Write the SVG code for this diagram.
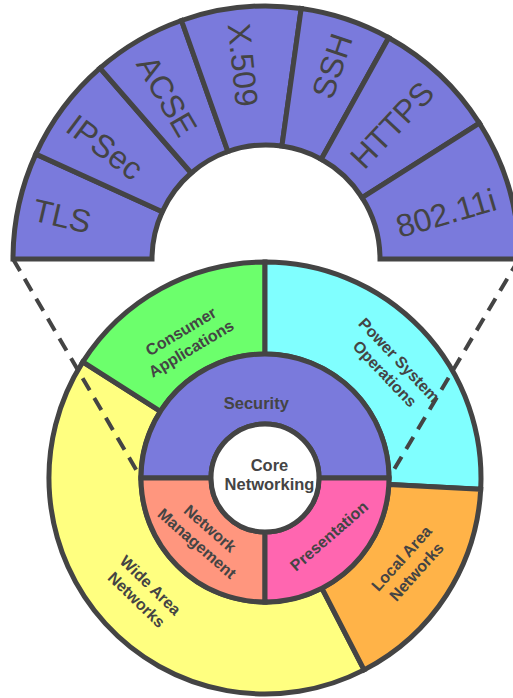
<svg xmlns="http://www.w3.org/2000/svg" width="513" height="698" viewBox="0 0 513 698">
<style>
.seg{stroke:#444;stroke-width:5;stroke-linejoin:miter}
.top{fill:#7a7adc}
.tt{font-family:"Liberation Sans",Arial,sans-serif;font-size:32px;fill:#444;text-anchor:middle}
.lb{font-family:"Liberation Sans",Arial,sans-serif;font-size:16px;font-weight:bold;fill:#444;text-anchor:middle}
.dash{fill:none;stroke:#444;stroke-width:4;stroke-dasharray:14 9}
</style>
<rect width="513" height="698" fill="#fff"/>
<g id="top-ring">
<g id="tls"><path class="seg top" d="M13,259 A253,253 0 0 1 35.8,154.1 L162.3,211.7 A114,114 0 0 0 152,259 Z"/><text class="tt" transform="translate(62,216) rotate(13)" dy="0.35em">TLS</text></g>
<g id="ipsec"><path class="seg top" d="M35.8,154.1 A253,253 0 0 1 100,68.1 L191.2,173 A114,114 0 0 0 162.3,211.7 Z"/><text class="tt" transform="translate(105,147) rotate(36.75)" dy="0.35em">IPSec</text></g>
<g id="acse"><path class="seg top" d="M100,68.1 A253,253 0 0 1 181.5,20.5 L227.9,151.5 A114,114 0 0 0 191.2,173 Z"/><text class="tt" transform="translate(167,96) rotate(59.75)" dy="0.35em">ACSE</text></g>
<g id="x509"><path class="seg top" d="M181.5,20.5 A253,253 0 0 1 301.2,8.5 L281.9,146.1 A114,114 0 0 0 227.9,151.5 Z"/><text class="tt" transform="translate(243,65) rotate(84.25)" dy="0.35em">X.509</text></g>
<g id="ssh"><path class="seg top" d="M301.2,8.5 A253,253 0 0 1 388.7,37.7 L321.3,159.3 A114,114 0 0 0 281.9,146.1 Z"/><text class="tt" transform="translate(332,66) rotate(-71.5)" dy="0.35em">SSH</text></g>
<g id="https"><path class="seg top" d="M388.7,37.7 A253,253 0 0 1 479.4,123.1 L362.1,197.7 A114,114 0 0 0 321.3,159.3 Z"/><text class="tt" transform="translate(392,125) rotate(-46.75)" dy="0.35em">HTTPS</text></g>
<g id="ieee80211i"><path class="seg top" d="M479.4,123.1 A253,253 0 0 1 519,259 L380,259 A114,114 0 0 0 362.1,197.7 Z"/><text class="tt" transform="translate(446,213) rotate(-16.25)" dy="0.35em">802.11i</text></g>
</g>
<g id="wide-area">
<path class="seg" fill="#ffff80" d="M364.1,669.9 A216,216 0 0 1 82.8,361.9 L160.4,411.4 A124,124 0 0 0 321.9,588.2 Z"/>
<g transform="translate(143.5,592.5) rotate(44)"><text class="lb" y="-4.5">Wide Area</text><text class="lb" y="15.5">Networks</text></g>
</g>
<g id="consumer">
<path class="seg" fill="#6cff6c" d="M82.8,361.9 A216,216 0 0 1 265,262 L265,354 A124,124 0 0 0 160.4,411.4 Z"/>
<g transform="translate(186,340) rotate(-31)"><text class="lb" y="-4.5">Consumer</text><text class="lb" y="15.5">Applications</text></g>
</g>
<g id="power">
<path class="seg" fill="#80ffff" d="M265,262 A216,216 0 0 1 480.7,489.3 L388.8,484.5 A124,124 0 0 0 265,354 Z"/>
<g transform="translate(392,367) rotate(46.5)"><text class="lb" y="-4.5">Power System</text><text class="lb" y="15.5">Operations</text></g>
</g>
<g id="local-area">
<path class="seg" fill="#ffb348" d="M480.7,489.3 A216,216 0 0 1 364.1,669.9 L321.9,588.2 A124,124 0 0 0 388.8,484.5 Z"/>
<g transform="translate(409,565) rotate(-48)"><text class="lb" y="-4.5">Local Area</text><text class="lb" y="15.5">Networks</text></g>
</g>
<g id="security">
<path class="seg" fill="#7a7adc" d="M141,478 A124,124 0 0 1 389,478 L319,478 A54,54 0 0 0 211,478 Z"/>
<text class="lb" x="256.3" y="409" style="font-size:16.5px">Security</text>
</g>
<g id="network-management">
<path class="seg" fill="#ff967e" d="M265,602 A124,124 0 0 1 141,478 L211,478 A54,54 0 0 0 265,532 Z"/>
<g transform="translate(203.5,536) rotate(41)"><text class="lb" y="-4.5">Network</text><text class="lb" y="15.5">Management</text></g>
</g>
<g id="presentation">
<path class="seg" fill="#ff66b0" d="M389,478 A124,124 0 0 1 265,602 L265,532 A54,54 0 0 0 319,478 Z"/>
<text class="lb" transform="translate(329,536) rotate(-41)" dy="0.35em">Presentation</text>
</g>
<g id="core">
<circle class="seg" cx="265" cy="478" r="54" fill="#fff"/>
<text class="lb" x="269.5" y="470.5" style="font-size:16.5px">Core</text>
<text class="lb" x="269.5" y="489.5" style="font-size:16.5px">Networking</text>
</g>
<g id="connectors">
<path class="dash" d="M13,259 L141,478"/>
<path class="dash" d="M519,259 L389,478"/>
</g>
</svg>
